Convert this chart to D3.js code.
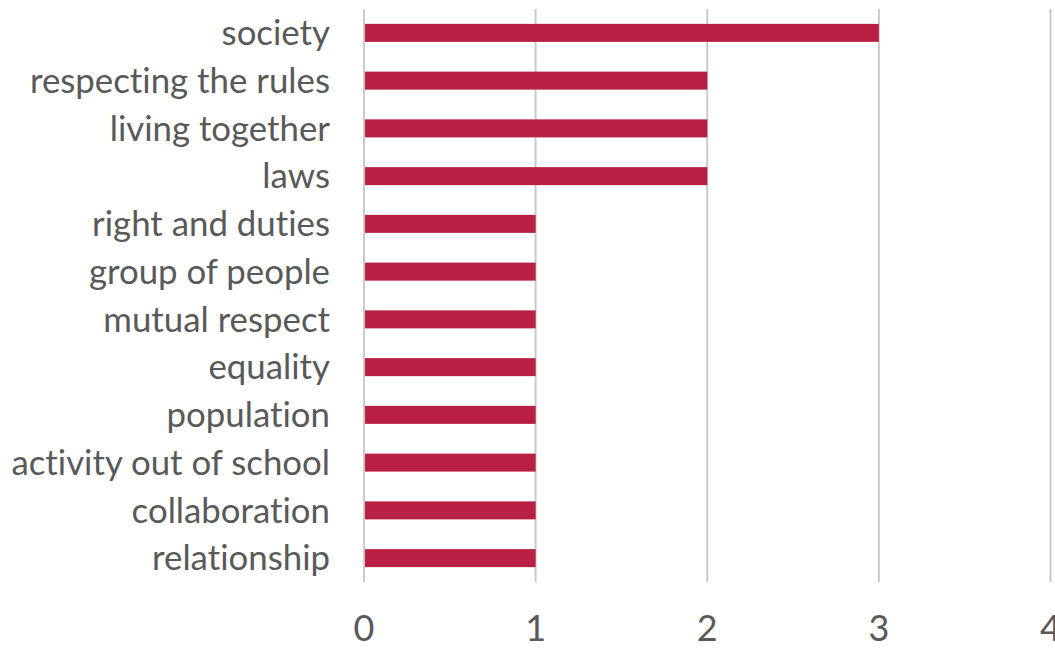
<!DOCTYPE html>
<html><head><meta charset="utf-8">
<script src="https://cdn.jsdelivr.net/npm/d3@7"></script>
<style>body{margin:0;background:#fff}svg{display:block}text{font-variant-ligatures:none;font-feature-settings:"liga" 0}</style>
</head><body>
<svg id="c" width="1055" height="649"></svg>
<script>
const categories = ["society","respecting the rules","living together","laws","right and duties","group of people","mutual respect","equality","population","activity out of school","collaboration","relationship"];
const values = [3,2,2,2,1,1,1,1,1,1,1,1];
const tickValues = [0,1,2,3,4];

const svg = d3.select("#c");
const x = d3.scaleLinear().domain([0,4]).range([364,1050.5]);
const y = d3.scaleBand().domain(categories).range([9,582]).paddingInner(0.623).paddingOuter(0.3115);

svg.append("g").selectAll("line").data(tickValues).join("line")
  .attr("x1",d=>x(d)).attr("x2",d=>x(d)).attr("y1",9).attr("y2",582)
  .attr("stroke","#c6c6c6").attr("stroke-width",1.8);

svg.append("g").selectAll("rect").data(categories).join("rect")
  .attr("x",x(0)+1).attr("y",d=>y(d)).attr("height",y.bandwidth())
  .attr("width",(d,i)=>x(values[i])-x(0)-1).attr("fill","#B91F42");

svg.append("g").selectAll("text").data(categories).join("text")
  .attr("x",330).attr("y",d=>y(d)+y.bandwidth()/2).attr("dy","0.35em")
  .attr("text-anchor","end").attr("font-family","Lato, sans-serif").attr("font-size",34.8)
  .attr("fill","#595959").text(d=>d);

svg.append("g").selectAll("text").data(tickValues).join("text")
  .attr("x",d=>x(d)).attr("y",641).attr("text-anchor","middle")
  .attr("font-family","Lato, sans-serif").attr("font-size",36)
  .attr("fill","#595959").text(d=>d);
</script>
</body></html>
